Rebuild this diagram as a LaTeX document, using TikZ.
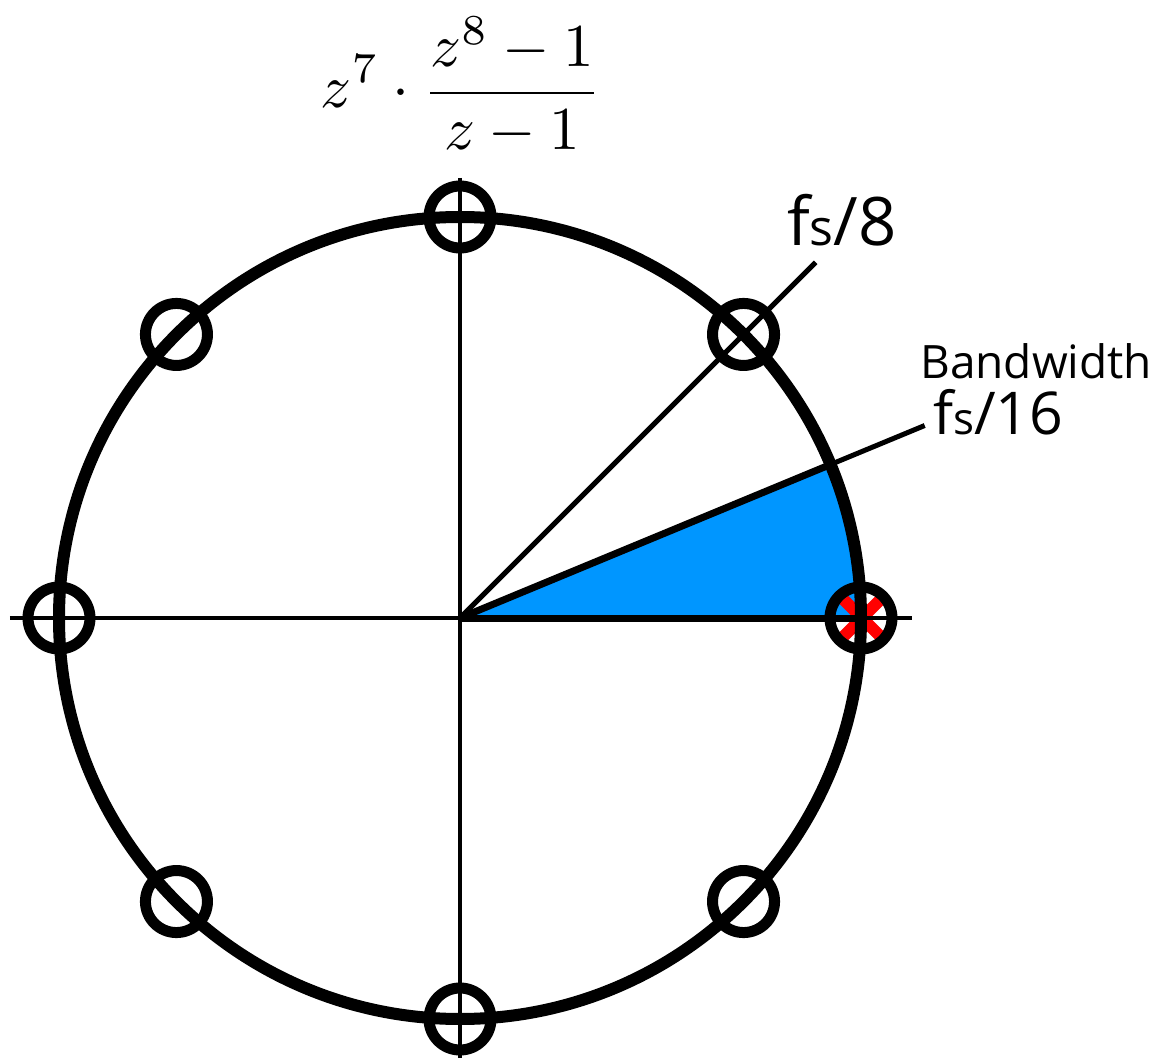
\documentclass[tikz,border=0pt]{standalone}
\usepackage{fontspec}
\newfontfamily\lab{Open Sans}
\definecolor{bwblue}{RGB}{0,150,255}
\definecolor{polered}{RGB}{255,0,0}
\begin{document}
\begin{tikzpicture}[x=1pt,y=1pt,
  zero/.style={circle,draw=black,line width=11pt,minimum size=62pt,inner sep=0pt},
  axis/.style={line width=4pt},
  ray/.style={line width=5pt},
  edgeline/.style={line width=7pt},
  pole/.style={polered,line width=12pt},
  lbl/.style={inner sep=0pt,anchor=base west}]
\useasboundingbox (-460,-443) rectangle (708,618);
\coordinate (O) at (0,0);
\coordinate (L) at (-450,0);
\coordinate (R) at (452,0);
\coordinate (T) at (0,440);
\coordinate (B) at (0,-440);
\coordinate (E8) at (45:503);
\coordinate (E16) at (22.5:503);
\coordinate (C16) at (22.5:401);
\coordinate (C0) at (401,0);
\coordinate (P) at (402,0);
% bandwidth sector
\fill[bwblue] (O) -- (C0) arc[start angle=0,end angle=22.5,radius=401] -- cycle;
% pole
\draw[pole] ([shift={(-21,21)}]P) -- ([shift={(21,-21)}]P);
\draw[pole] ([shift={(-21,-21)}]P) -- ([shift={(21,21)}]P);
% axes
\draw[axis] (L) -- (R);
\draw[axis] (T) -- (B);
% rays
\draw[ray] (O) -- (E8);
\draw[ray] (O) -- (E16);
\draw[edgeline] (O) -- (C16);
\draw[edgeline] (O) -- (C0);
% unit circle
\draw[line width=12pt] (O) circle[radius=401];
% zeros
\foreach \a [count=\i] in {0,45,...,315}
  \node[zero] (z\i) at (\a:401) {};
% labels
\node[lbl,font=\lab\fontsize{67}{70}\selectfont] (l8) at (327,372) {f{\fontsize{50}{50}\selectfont s}/8};
\node[lbl,font=\lab\fontsize{46}{50}\selectfont] (lbw) at (460,240) {Bandwidth};
\node[lbl,font=\lab\fontsize{59}{62}\selectfont] (l16) at (473,184) {f{\fontsize{44}{44}\selectfont s}/16};
% formula
\node[scale=6.1,inner sep=0pt] (F) at (1,532) {$\displaystyle z^7\cdot\frac{z^8-1}{z-1}$};
\end{tikzpicture}
\end{document}
